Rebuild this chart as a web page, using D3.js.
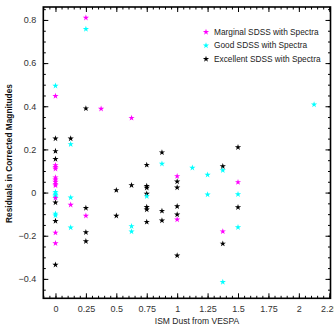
<!DOCTYPE html>
<html>
<head>
<meta charset="utf-8">
<script src="https://cdn.jsdelivr.net/npm/d3@7"></script>
<style>
  html, body { margin: 0; padding: 0; background: #fff; }
  svg { display: block; font-family: "Liberation Sans", Arial, sans-serif; }
</style>
</head>
<body>
<svg id="chart" width="334" height="325"></svg>
<script>
// Residuals vs. ISM dust, split by SDSS spectral quality
const seriesNames = ["Marginal SDSS with Spectra", "Good SDSS with Spectra", "Excellent SDSS with Spectra"];
const seriesColors = ["#ff00ff", "#00ffff", "#000000"];

const marginalX = [0.25, 0, 0.375, 0.625, 0, 0, 0, 0, 0, 0, 0, 0, 0, 0, 0, 0.125, 0.25, 1, 1, 1.5, 1.375];
const marginalY = [0.81, 0.447, 0.388, 0.346, 0.127, 0.118, 0.11, 0.07, 0.06, 0.05, 0.04, 0.033, -0.025, -0.186, -0.235, -0.057, -0.108, 0.076, -0.125, 0.048, -0.18];

const goodX = [0.25, 0, 0.125, 0.875, 2.125, 1.125, 1.375, 1.25, 1.25, 1.5, 1.5, 1.375, 0, 0, 0, 0, 0, 0, 0.125, 0.125, 0.625, 0.625, 0.75];
const goodY = [0.758, 0.495, 0.224, 0.133, 0.408, 0.115, 0.103, 0.082, -0.009, -0.008, -0.161, -0.415, 0.003, -0.005, -0.013, -0.02, -0.098, -0.106, -0.023, -0.162, -0.156, -0.181, -0.017];

const excellentX = [0.25, 0, 0.125, 0, 0, 0.75, 0.875, 1.5, 1.375, 1, 1, 1, 1.5, 1, 1.375, 1, 0, 0, 0, 0.25, 0.25, 0.25, 0.5, 0.5, 0.625, 0.75, 0.75, 0.75, 0.75, 0.75, 0.75, 0.875, 0.875];
const excellentY = [0.39, 0.25, 0.25, 0.192, 0.155, 0.128, 0.186, 0.21, 0.122, 0.051, 0.023, -0.064, -0.068, -0.102, -0.237, -0.292, -0.046, -0.132, -0.335, -0.072, -0.184, -0.226, 0.011, -0.108, 0.034, 0.03, 0.022, -0.006, -0.067, -0.079, -0.136, -0.085, -0.13];

const xTicks = [0, 0.25, 0.5, 0.75, 1, 1.25, 1.5, 1.75, 2, 2.25];
const yTicks = [-0.4, -0.2, 0, 0.2, 0.4, 0.6, 0.8];
const xLabel = "ISM Dust from VESPA";
const yLabel = "Residuals in Corrected Magnitudes";

const svg = d3.select("#chart");
const plotLeft = 43.3, plotRight = 330.5, plotTop = 7, plotBottom = 298.3;

const x = d3.scaleLinear().domain([-0.1, 2.26]).range([plotLeft, plotRight]);
const y = d3.scaleLinear().domain([-0.49, 0.86]).range([plotBottom, plotTop]);

const xMinor = d3.range(-0.1, 2.2601, 0.05).map(v => +v.toFixed(2));
const yMinor = d3.range(-0.45, 0.8601, 0.05).map(v => +v.toFixed(2));

const majorLen = 5, minorLen = 2.5;
const axisColor = "#000";

// Axes: ticks drawn inward on all four sides
function addAxis(axisGen, tx, ty) {
  const g = svg.append("g").attr("transform", `translate(${tx},${ty})`).call(axisGen);
  g.select(".domain").remove();
  g.selectAll(".tick line").attr("stroke", axisColor).attr("stroke-width", 1);
  return g;
}

// bottom
addAxis(d3.axisBottom(x).tickValues(xMinor).tickSize(-minorLen).tickFormat(""), 0, plotBottom);
const xb = addAxis(d3.axisBottom(x).tickValues(xTicks).tickSize(-majorLen).tickPadding(7)
  .tickFormat(d => d3.format("")(d)), 0, plotBottom);
xb.selectAll(".tick text").attr("font-size", 9).attr("fill", "#333")
  .attr("font-family", "Liberation Sans, Arial, sans-serif");
// top
addAxis(d3.axisTop(x).tickValues(xMinor).tickSize(-minorLen).tickFormat(""), 0, plotTop);
addAxis(d3.axisTop(x).tickValues(xTicks).tickSize(-majorLen).tickFormat(""), 0, plotTop);
// left
addAxis(d3.axisLeft(y).tickValues(yMinor).tickSize(-minorLen).tickFormat(""), plotLeft, 0);
const yl = addAxis(d3.axisLeft(y).tickValues(yTicks).tickSize(-majorLen).tickPadding(7)
  .tickFormat(d => d3.format("")(d)), plotLeft, 0);
yl.selectAll(".tick text").attr("font-size", 9).attr("fill", "#333")
  .attr("font-family", "Liberation Sans, Arial, sans-serif");
// right
addAxis(d3.axisRight(y).tickValues(yMinor).tickSize(-minorLen).tickFormat(""), plotRight, 0);
addAxis(d3.axisRight(y).tickValues(yTicks).tickSize(-majorLen).tickFormat(""), plotRight, 0);

// frame
svg.append("rect")
  .attr("x", plotLeft).attr("y", plotTop)
  .attr("width", plotRight - plotLeft).attr("height", plotBottom - plotTop)
  .attr("fill", "none").attr("stroke", axisColor).attr("stroke-width", 1.6);

// points
const star = d3.symbol().type(d3.symbolStar).size(12);
const series = [
  { name: seriesNames[2], color: seriesColors[2], xs: excellentX, ys: excellentY },
  { name: seriesNames[1], color: seriesColors[1], xs: goodX, ys: goodY },
  { name: seriesNames[0], color: seriesColors[0], xs: marginalX, ys: marginalY }
];
series.forEach(s => {
  svg.append("g").selectAll("path")
    .data(s.xs.map((v, i) => [v, s.ys[i]]))
    .join("path")
    .attr("d", star)
    .attr("transform", d => `translate(${x(d[0])},${y(d[1])})`)
    .attr("fill", s.color);
});

// legend
const legend = svg.append("g");
seriesNames.forEach((name, i) => {
  const ly = [32, 45.5, 59][i];
  legend.append("path").attr("d", star)
    .attr("transform", `translate(206,${ly})`).attr("fill", seriesColors[i]);
  legend.append("text").attr("x", 214).attr("y", ly).attr("dy", "0.35em")
    .attr("font-size", 8.3).attr("fill", "#222").text(name);
});

// axis titles
svg.append("text").attr("x", 197).attr("y", 324)
  .attr("text-anchor", "middle").attr("font-size", 8.5).attr("fill", "#222")
  .text(xLabel);
svg.append("text")
  .attr("transform", `translate(12,153.5) rotate(-90)`)
  .attr("text-anchor", "middle").attr("font-size", 8.3).attr("font-weight", "bold")
  .attr("fill", "#111").text(yLabel);
</script>
</body>
</html>
